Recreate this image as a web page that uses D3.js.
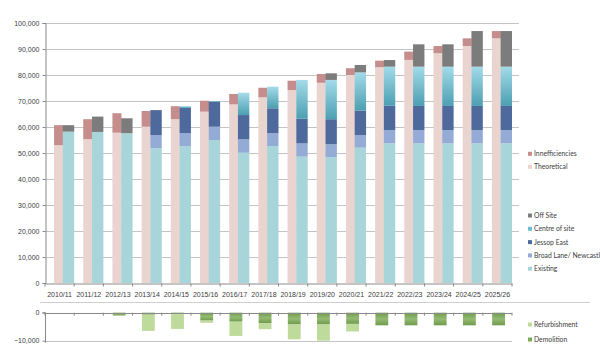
<!DOCTYPE html>
<html>
<head>
<meta charset="utf-8">
<script src="https://cdn.jsdelivr.net/npm/d3@7"></script>
<style>
  body { margin: 0; background: #fff; }
  svg { display: block; font-family: Lato, "Liberation Sans", sans-serif; }
</style>
</head>
<body>
<svg id="plot" width="600" height="353"></svg>
<script>
const years = ['2010/11','2011/12','2012/13','2013/14','2014/15','2015/16','2016/17','2017/18',
  '2018/19','2019/20','2020/21','2021/22','2022/23','2023/24','2024/25','2025/26'];

// demand bar (left)
const theoretical    = [53000,55300,57800,60100,63000,65900,68700,71400,74200,77000,80000,83000,85800,88350,91150,94100];
const inefficiencies = [7700,7700,7500,6050,5000,4200,4000,3700,3600,3400,2600,2500,3200,2800,2950,2800];

// supply bar (right)
const existing     = [58200,58100,57600,51800,52700,55000,50100,52700,48600,48350,52050,53700,53700,53700,53700,53700];
const broadLane    = [0,0,0,5100,4900,5100,5150,4900,5100,5000,4850,5150,5150,5150,5150,5150];
const jessopEast   = [0,0,0,9600,9700,9600,9350,9600,9500,9650,9400,9350,9250,9250,9250,9250];
const centreOfSite = [0,0,0,0,700,300,8600,8300,14900,15100,14700,15000,15100,15100,15100,15100];
const offSite      = [2500,5900,5750,0,0,0,0,0,0,2550,2850,2550,8600,8600,13700,13700];

// losses (bottom panel)
const demolition    = [0,0,1000,700,500,2800,3200,3700,4200,4200,4000,4500,4500,4500,4500,4500];
const refurbishment = [0,0,0,5800,5300,800,5100,2200,5300,5800,2700,0,0,0,0,0];

const yTicks = [0,10000,20000,30000,40000,50000,60000,70000,80000,90000,100000];
const lossTicks = [0,-10000];

const svg = d3.select('#plot');
const fmt = d3.format(',');
const txtColor = '#404040';
const gridColor = '#c4c4c4';

// gradients for the two shaded series
const defs = svg.append('defs');
const grad = (id, stops) => {
  const g = defs.append('linearGradient').attr('id', id)
    .attr('x1', 0).attr('y1', 0).attr('x2', 0).attr('y2', 1);
  stops.forEach(([o, c]) => g.append('stop').attr('offset', o).attr('stop-color', c));
};
grad('cosGrad', [[0, '#a3dbe9'], [1, '#4c9fb2']]);
grad('demGrad', [[0, '#6f9a4c'], [0.5, '#93bb72'], [1, '#6f9a4c']]);

const x = d3.scaleBand().domain(years).range([45, 512]).padding(0);
const bw = x.bandwidth();
const y = d3.scaleLinear().domain([0, 100000]).range([283, 23]);
const yLoss = d3.scaleLinear().domain([-10000, 0]).range([340.7, 312.7]);

// ---- main panel grid + axes
svg.append('g').selectAll('line').data(yTicks.slice(1)).join('line')
  .attr('x1', 45).attr('x2', 519)
  .attr('y1', d => Math.round(y(d)) + 0.5).attr('y2', d => Math.round(y(d)) + 0.5)
  .attr('stroke', gridColor);

const yAxis = d3.axisLeft(y).tickValues(yTicks).tickFormat(fmt).tickSize(3).tickPadding(3);
const yAxisG = svg.append('g').attr('transform', 'translate(45.5,0)').call(yAxis);

const xAxis = d3.axisBottom(x).tickSize(0).tickPadding(9);
const xAxisG = svg.append('g').attr('transform', 'translate(0,283.5)').call(xAxis);
xAxisG.append('g').selectAll('line').data(years.map(d => x(d)).concat([512])).join('line')
  .attr('x1', d => d).attr('x2', d => d).attr('y1', 0).attr('y2', 3)
  .attr('stroke', '#8a8a8a');

const axisStyle = g => {
  g.select('.domain').attr('stroke', '#8a8a8a');
  g.selectAll('.tick line').attr('stroke', '#8a8a8a');
  g.selectAll('text').attr('fill', txtColor).attr('font-size', 7);
};
yAxisG.call(axisStyle);
xAxisG.call(axisStyle);

// ---- stacked bars
const stackBars = (keys, series, colors, x0, w, yScale) => {
  const rows = years.map((yr, i) => {
    const r = { year: yr };
    keys.forEach((k, j) => r[k] = series[j][i]);
    return r;
  });
  const stacked = d3.stack().keys(keys)(rows);
  svg.append('g').selectAll('g').data(stacked).join('g')
    .attr('fill', (d, i) => colors[i])
    .selectAll('rect').data(d => d).join('rect')
      .attr('x', d => x(d.data.year) + x0 * bw)
      .attr('width', w * bw)
      .attr('y', d => Math.min(yScale(d[0]), yScale(d[1])))
      .attr('height', d => Math.abs(yScale(d[0]) - yScale(d[1])));
};

stackBars(['theoretical', 'inefficiencies'], [theoretical, inefficiencies],
  ['#ead4d0', '#c68d8d'], 0.31, 0.31, y);

stackBars(['existing', 'broadLane', 'jessopEast', 'centreOfSite', 'offSite'],
  [existing, broadLane, jessopEast, centreOfSite, offSite],
  ['#a8d5d9', '#94abd6', '#4e6a9c', 'url(#cosGrad)', '#7c7c7c'], 0.61, 0.39, y);

// ---- loss panel
svg.append('line').attr('x1', 40).attr('x2', 590).attr('y1', 302.5).attr('y2', 302.5)
  .attr('stroke', '#cfcfcf');
svg.append('line').attr('x1', 45).attr('x2', 512)
  .attr('y1', Math.round(yLoss(-10000)) + 0.5).attr('y2', Math.round(yLoss(-10000)) + 0.5)
  .attr('stroke', gridColor);

stackBars(['dem', 'ref'], [demolition.map(v => -v), refurbishment.map(v => -v)],
  ['url(#demGrad)', '#bfdb9c'], 0.32, 0.44, yLoss);

const lossAxis = d3.axisLeft(yLoss).tickValues(lossTicks).tickFormat(fmt).tickSize(3).tickPadding(3);
const lossAxisG = svg.append('g').attr('transform', 'translate(45.5,0)').call(lossAxis);
lossAxisG.call(axisStyle);
lossAxisG.select('.domain').attr('d', `M-3,${yLoss(0)}H0V${yLoss(-10000) + 2}`);

const zeroG = svg.append('g');
zeroG.append('line').attr('x1', 45).attr('x2', 512)
  .attr('y1', Math.round(yLoss(0)) + 0.5).attr('y2', Math.round(yLoss(0)) + 0.5)
  .attr('stroke', '#8a8a8a');
zeroG.selectAll('.tk').data(years.map(d => x(d)).concat([512])).join('line')
  .attr('x1', d => d).attr('x2', d => d)
  .attr('y1', yLoss(0)).attr('y2', yLoss(0) + 3)
  .attr('stroke', '#8a8a8a');

// ---- legends
const legend = (items, x0, y0, step) => {
  const g = svg.append('g').attr('transform', `translate(${x0},${y0})`);
  const it = g.selectAll('g').data(items).join('g')
    .attr('transform', (d, i) => `translate(0,${i * step})`);
  it.append('rect').attr('x', 0).attr('y', -2.5).attr('width', 4).attr('height', 4)
    .attr('fill', d => d.color);
  it.append('text').attr('x', 6).attr('dy', '0.32em')
    .attr('font-size', 6.8).attr('fill', txtColor)
    .text(d => d.label);
};

legend([
  { label: 'Innefficiencies', color: '#c68d8d' },
  { label: 'Theoretical', color: '#ead4d0' }
], 528, 154.3, 13);

legend([
  { label: 'Off Site', color: '#7c7c7c' },
  { label: 'Centre of site', color: '#6cbdd0' },
  { label: 'Jessop East', color: '#4e6a9c' },
  { label: 'Broad Lane/ Newcastl', color: '#94abd6' },
  { label: 'Existing', color: '#a8d5d9' }
], 528, 216, 13.3);

legend([
  { label: 'Refurbishment', color: '#bfdb9c' },
  { label: 'Demolition', color: '#7fa85a' }
], 528, 325, 15);
</script>
</body>
</html>
